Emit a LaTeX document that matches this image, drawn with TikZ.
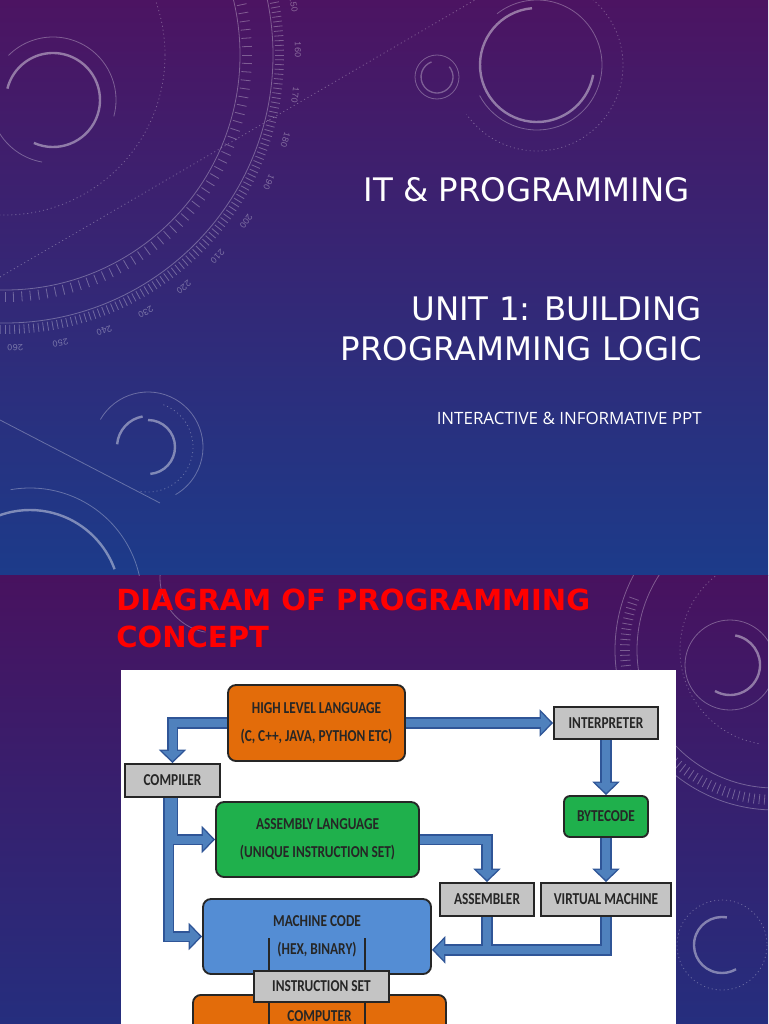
\documentclass[tikz,border=0pt]{standalone}
\usepackage{fontspec}
\setmainfont{DejaVu Sans}
\newfontfamily\boxfont[FakeStretch=0.8]{Carlito}
\newfontfamily\subfont{Open Sans}
\usetikzlibrary{arrows.meta}

\definecolor{slidetop}{HTML}{4C1462}
\definecolor{slidemid}{HTML}{34247A}
\definecolor{slidebot}{HTML}{1C3B8A}
\definecolor{slidetwotop}{HTML}{48125F}
\definecolor{slidetwobot}{HTML}{252E7E}
\definecolor{langorange}{HTML}{E36C0A}
\definecolor{langgreen}{HTML}{1FB04C}
\definecolor{codeblue}{HTML}{548DD4}
\definecolor{toolgray}{HTML}{C4C4C4}
\definecolor{flowfill}{HTML}{4F81BD}
\definecolor{flowedge}{HTML}{2F5597}
\definecolor{boxtext}{HTML}{262626}
\definecolor{titlered}{HTML}{FF0000}

\tikzset{
  deco/.style={draw=white, draw opacity=0.3, line width=0.6pt},
  decothick/.style={deco, line width=1.8pt, draw opacity=0.42},
  decodots/.style={deco, dash pattern=on 0.8pt off 2.2pt},
  deconum/.style={text=white, text opacity=0.35, font=\ttfamily\fontsize{7.5}{7.5}\selectfont, inner sep=0pt},
  slidetitle/.style={text=white, font=\fontsize{24.3}{29}\selectfont, inner sep=0pt, anchor=base east},
  boxlabel/.style={text=boxtext, align=center, font=\boxfont\bfseries\fontsize{12.5}{21}\selectfont, inner sep=0pt},
  langbox/.style={boxlabel, draw=black!85, line width=1.4pt, rounded corners=6pt},
  toolbox/.style={boxlabel, draw=black!85, fill=toolgray, line width=1.4pt},
  connedge/.style={draw=flowedge, line width=8.5pt, -{Triangle[length=10pt, width=20pt]}},
  connfill/.style={draw=flowfill, line width=6pt, shorten >=1.6pt, -{Triangle[length=7.6pt, width=15.5pt]}},
}

\begin{document}
\begin{tikzpicture}[x=0.75pt, y=-0.75pt]
\useasboundingbox (0,0) rectangle (768,1024);
\clip (0,0) rectangle (768,1024);

% backgrounds of the two slides
\shade[top color=slidetop, middle color=slidemid, bottom color=slidebot] (0,0) rectangle (768,575);
\shade[top color=slidetwotop, bottom color=slidetwobot] (0,575) rectangle (768,1024);

% title slide ornaments
\begin{scope}
\clip (0,0) rectangle (768,575);
\begin{scope}[shift={(5,55)}]
\draw[deco] (0,0) circle[radius=235];
\draw[deco] (0,0) circle[radius=268];
\draw[decodots] (0,0) circle[radius=160];
\foreach \a in {-30,-28,...,100} \draw[deco] (\a:237) -- (\a:247);
\foreach \a in {-30,-29,...,100} \draw[deco] (\a:270) -- (\a:279);
\foreach \n [evaluate=\n as \a using -1+(\n-160)*0.89] in {150,160,...,260}
  \node[deconum, rotate={-90-(\a)}] at (\a:293) {\n};
\end{scope}
\draw[decodots] (0,277) -- (475,0);
\begin{scope}[shift={(53,100)}]
\draw[decothick] (114:47) arc[start angle=114, end angle=-166, radius=47];
\draw[deco] (-135:63) arc[start angle=-135, end angle=15, radius=63];
\draw[deco] (100:63) arc[start angle=100, end angle=160, radius=63];
\end{scope}
\begin{scope}[shift={(537,65)}]
\draw[decothick] (-95:57) arc[start angle=-95, end angle=-350, radius=57];
\draw[deco] (-128:65) arc[start angle=-128, end angle=152, radius=65];
\draw[decodots] (-55:86) arc[start angle=-55, end angle=145, radius=86];
\end{scope}
\begin{scope}[shift={(437,77)}]
\draw[deco] (0,0) circle[radius=22];
\draw[deco, line width=1pt] (-40:16) arc[start angle=-40, end angle=250, radius=16];
\end{scope}
\begin{scope}[shift={(148,447)}]
\draw[decothick] (-90:27) arc[start angle=-90, end angle=85, radius=27];
\draw[decothick] (-100:31) arc[start angle=-100, end angle=-175, radius=31];
\draw[decodots] (-70:45) arc[start angle=-70, end angle=100, radius=45];
\draw[deco] (-150:55) arc[start angle=-150, end angle=60, radius=55];
\end{scope}
\draw[deco] (0,420) -- (160,503);
\begin{scope}[shift={(30,600)}]
\draw[decothick] (-120:90) arc[start angle=-120, end angle=-20, radius=90];
\draw[deco] (-100:112) arc[start angle=-100, end angle=0, radius=112];
\end{scope}
\end{scope}

% second slide ornaments
\begin{scope}
\clip (0,575) rectangle (768,1024);
\begin{scope}[shift={(775,650)}]
\draw[deco] (0,0) circle[radius=138];
\draw[deco] (0,0) circle[radius=160];
\draw[decodots] (100:95) arc[start angle=100, end angle=260, radius=95];
\foreach \a in {60,62,...,200} \draw[deco] (\a:145) -- (\a:155);
\end{scope}
\begin{scope}[shift={(730,665)}]
\draw[decothick] (-80:30) arc[start angle=-80, end angle=120, radius=30];
\draw[deco] (0,0) circle[radius=45];
\end{scope}
\begin{scope}[shift={(722,945)}]
\draw[decothick] (-80:28) arc[start angle=-80, end angle=-300, radius=28];
\draw[decodots] (0,0) circle[radius=45];
\end{scope}
\begin{scope}[shift={(215,578)}]
\draw[deco] (100:55) arc[start angle=100, end angle=200, radius=55];
\end{scope}
\end{scope}

% title slide texts
\node[slidetitle] (title) at (690,201) {IT \& PROGRAMMING};
\node[slidetitle] (unitA) at (702,320) {UNIT 1: BUILDING};
\node[slidetitle] (unitB) at (702,360) {PROGRAMMING LOGIC};
\node[anchor=base east, text=white, inner sep=0pt, font=\subfont\fontsize{12.7}{15}\selectfont] (subtitle) at (702,424) {INTERACTIVE \& INFORMATIVE PPT};

% second slide heading
\node[anchor=base west, text=titlered, inner sep=0pt, font=\bfseries\fontsize{21.8}{26}\selectfont] (headA) at (116,610) {DIAGRAM OF PROGRAMMING};
\node[anchor=base west, text=titlered, inner sep=0pt, font=\bfseries\fontsize{21.8}{26}\selectfont] (headB) at (116,647) {CONCEPT};

% diagram panel
\fill[white] (121,670) rectangle (676,1030);

\node[langbox, fill=langorange, minimum width=132.75pt, minimum height=57pt] (hll) at (316.5,723) {HIGH LEVEL LANGUAGE\\(C, C++, JAVA, PYTHON ETC)};
\node[toolbox, minimum width=71.25pt, minimum height=24.75pt] (compiler) at (172.5,780.5) {COMPILER};
\node[langbox, fill=langgreen, minimum width=152.25pt, minimum height=56.25pt] (assembly) at (317.5,839.5) {ASSEMBLY LANGUAGE\\(UNIQUE INSTRUCTION SET)};
\node[toolbox, minimum width=78pt, minimum height=24pt] (interp) at (606,723) {INTERPRETER};
\node[langbox, fill=langgreen, rounded corners=4.5pt, minimum width=63pt, minimum height=30.75pt] (bytecode) at (606,816.5) {BYTECODE};
\node[toolbox, minimum width=70.5pt, minimum height=24.75pt] (assembler) at (487,899.5) {ASSEMBLER};
\node[toolbox, minimum width=97.5pt, minimum height=24.75pt] (vm) at (606,899.5) {VIRTUAL MACHINE};
\node[langbox, fill=codeblue, minimum width=171pt, minimum height=56.25pt] (mcode) at (317,936.5) {MACHINE CODE\\(HEX, BINARY)};
\node[langbox, fill=langorange, anchor=north, minimum width=189.75pt, text height=17pt, text depth=31pt, inner ysep=3pt] (computer) at (319.5,994) {COMPUTER};

\coordinate (isetleft) at (269,938);
\coordinate (isetright) at (365,938);
\draw[draw=black!85, line width=1.2pt] (isetleft) -- (isetleft |- computer.south);
\draw[draw=black!85, line width=1.2pt] (isetright) -- (isetright |- computer.south);
\node[toolbox, minimum width=101.25pt, minimum height=23.25pt] (iset) at (321.5,986.5) {INSTRUCTION SET};

% block arrows, edge first then fill
\coordinate (mcodein) at ([yshift=-10pt]mcode.east);
\foreach \pass in {edge,fill} {
  \draw[conn\pass] (hll.west) -| (compiler.north);
  \draw[conn\pass] (hll.east) -- (interp.west);
  \draw[conn\pass] (compiler.south) |- (assembly.west);
  \draw[conn\pass] ([xshift=-3pt]compiler.south) |- (mcode.west);
  \draw[conn\pass] (assembly.east) -| (assembler.north);
  \draw[conn\pass] (interp.south) -- (bytecode.north);
  \draw[conn\pass] (bytecode.south) -- (vm.north);
  \draw[conn\pass, -] (assembler.south) -- (assembler.south |- mcodein);
  \draw[conn\pass] (vm.south) |- (mcodein);
}
\end{tikzpicture}
\end{document}
